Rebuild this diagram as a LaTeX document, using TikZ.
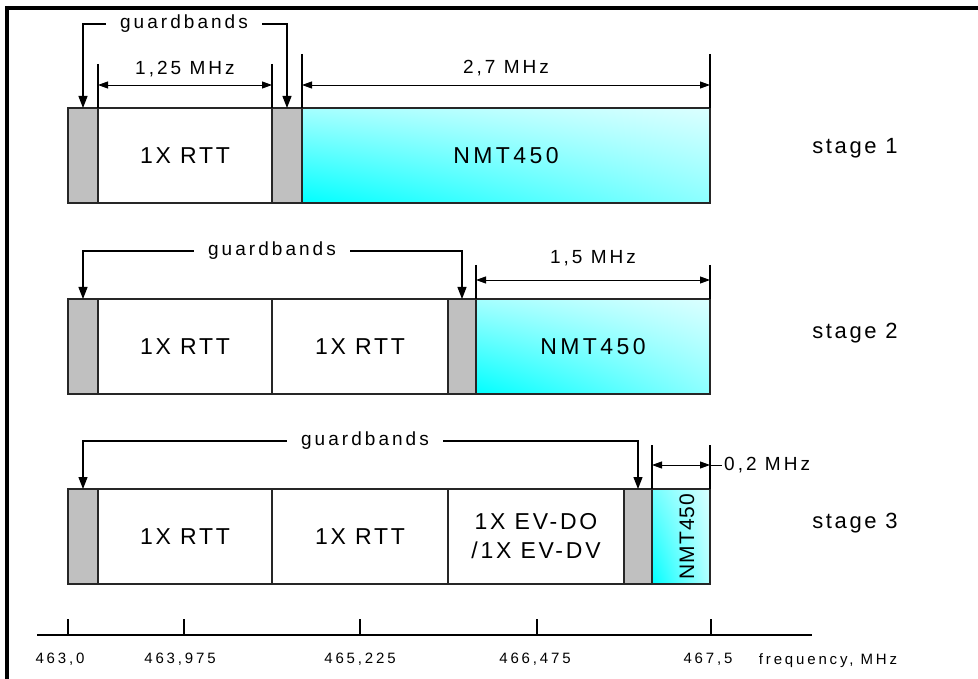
\documentclass[tikz,border=0pt]{standalone}
\usepackage{fontspec}
\setmainfont{Liberation Sans}
\newfontfamily\bigf[LetterSpace=12]{Liberation Sans}
\newfontfamily\nmtf[LetterSpace=15]{Liberation Sans}
\newfontfamily\medf[LetterSpace=16]{Liberation Sans}
\newfontfamily\smlf[LetterSpace=19]{Liberation Sans}
\newfontfamily\vertf[LetterSpace=5]{Liberation Sans}
\usetikzlibrary{arrows.meta,shadings}
\definecolor{guardgray}{HTML}{C0C0C0}
\begin{document}
\begin{tikzpicture}[x=1pt,y=-1pt,
  band/.style={draw=black!85, line width=1.3pt, anchor=north west,
    minimum height=95pt, inner sep=0pt, outer sep=0pt,
    font=\bigf\fontsize{23}{29}\selectfont, align=center},
  guard/.style={band, fill=guardgray},
  nmt/.style={band, font=\nmtf\fontsize{23}{29}\selectfont, shade,
    lower left=cyan, upper left=cyan!35, lower right=cyan!45, upper right=cyan!14},
  nmtthin/.style={band, shade, lower left=cyan, upper left=cyan!55,
    lower right=cyan!30, upper right=cyan!15},
  ext/.style={line width=2pt, black},
  dim/.style={line width=0.9pt, black, {Triangle[length=10pt,width=7pt]}-{Triangle[length=10pt,width=7pt]}},
  gb/.style={line width=1.2pt, black, -{Triangle[length=12pt,width=9pt]}},
  gbtext/.style={font=\medf\fontsize{19}{23}\selectfont, inner xsep=14pt, inner ysep=2pt},
  dimtext/.style={font=\medf\fontsize{19}{23}\selectfont, inner sep=1pt},
  stagetext/.style={font=\bigf\fontsize{22}{26}\selectfont},
  axtext/.style={font=\smlf\fontsize{15}{18}\selectfont},
  frame/.style={line width=4pt, black}
]
\useasboundingbox (0,0) rectangle (978,679);
% frame
\draw[frame] (5,8) -- (978,8);
\draw[frame] (7,6) -- (7,679);

% ---------------- stage 1
\node[guard, minimum width=30pt] (g1a) at (68,108) {};
\node[band, minimum width=174pt] (r1) at (98,108) {1X RTT};
\node[guard, minimum width=30pt] (g1b) at (272,108) {};
\node[nmt, minimum width=408pt] (n1) at (302,108) {NMT450};
\node[stagetext] (s1) at (855,148) {stage 1};

\node[gbtext] (gb1) at (184,24) {guardbands};
\draw[gb] (gb1.west) -| (g1a.north);
\draw[gb] (gb1.east) -| (g1b.north);

\coordinate (e1a) at (98,64);  \coordinate (e1b) at (272,64);
\coordinate (e1c) at (302,54); \coordinate (e1d) at (710,54);
\draw[ext] (e1a) -- (r1.north west);
\draw[ext] (e1b) -- (g1b.north west);
\draw[ext] (e1c) -- (n1.north west);
\draw[ext] (e1d) -- (n1.north east);
\coordinate (a1a) at (98,85);  \coordinate (a1b) at (272,85);
\coordinate (a1c) at (302,85); \coordinate (a1d) at (710,85);
\draw[dim] (a1a) -- (a1b);
\draw[dim] (a1c) -- (a1d);
\node[dimtext] (t1a) at (185,69) {1,25 MHz};
\node[dimtext] (t1b) at (506,68) {2,7 MHz};

% ---------------- stage 2
\node[guard, minimum width=30pt] (g2a) at (68,299) {};
\node[band, minimum width=174pt] (r2a) at (98,299) {1X RTT};
\node[band, minimum width=176pt] (r2b) at (272,299) {1X RTT};
\node[guard, minimum width=28pt] (g2b) at (448,299) {};
\node[nmt, minimum width=234pt] (n2) at (476,299) {NMT450};
\node[stagetext] (s2) at (855,333) {stage 2};

\node[gbtext] (gb2) at (272,251) {guardbands};
\draw[gb] (gb2.west) -| (g2a.north);
\draw[gb] (gb2.east) -| (g2b.north);

\coordinate (e2a) at (476,265); \coordinate (e2b) at (710,265);
\draw[ext] (e2a) -- (n2.north west);
\draw[ext] (e2b) -- (n2.north east);
\coordinate (a2a) at (476,280); \coordinate (a2b) at (710,280);
\draw[dim] (a2a) -- (a2b);
\node[dimtext] (t2) at (593,258) {1,5 MHz};

% ---------------- stage 3
\node[guard, minimum width=30pt] (g3a) at (68,489) {};
\node[band, minimum width=174pt] (r3a) at (98,489) {1X RTT};
\node[band, minimum width=176pt] (r3b) at (272,489) {1X RTT};
\node[band, minimum width=176pt] (e3) at (448,489) {1X EV-DO\\/1X EV-DV};
\node[guard, minimum width=28pt] (g3b) at (624,489) {};
\node[nmtthin, minimum width=58pt] (n3) at (652,489) {};
\node[font=\vertf\fontsize{21}{25}\selectfont, rotate=90, inner sep=0pt] (n3t) at ([xshift=6pt]n3.center) {NMT450};
\node[stagetext] (s3) at (855,523) {stage 3};

\node[gbtext] (gb3) at (365,441) {guardbands};
\draw[gb] (gb3.west) -| (g3a.north);
\draw[gb] (gb3.east) -| (g3b.north);

\coordinate (e3a) at (652,445); \coordinate (e3b) at (710,445);
\draw[ext] (e3a) -- (n3.north west);
\draw[ext] (e3b) -- (n3.north east);
\coordinate (a3a) at (652,465); \coordinate (a3b) at (710,465);
\draw[dim] (a3a) -- (a3b);
\node[dimtext, anchor=west, inner sep=0pt] (t3) at (724,465) {0,2 MHz};
\coordinate (k3) at (722,465);
\draw[line width=0.9pt] (a3b) -- (k3);

% ---------------- frequency axis
\coordinate (ax0) at (37,635); \coordinate (ax1) at (812,635);
\draw[line width=1.3pt] (ax0) -- (ax1);
\foreach \xx/\nm in {68/k0,184/k1,360/k2,537/k3,711/k4}{
  \coordinate (\nm t) at (\xx,619);
  \coordinate (\nm b) at (\xx,635);
  \draw[line width=1.3pt] (\nm t) -- (\nm b);
}
\node[axtext] (f0) at (60,659) {463,0};
\node[axtext] (f1) at (180,659) {463,975};
\node[axtext] (f2) at (360,659) {465,225};
\node[axtext] (f3) at (535,659) {466,475};
\node[axtext] (f4) at (708,659) {467,5};
\node[axtext] (fl) at (828,661) {frequency, MHz};
\end{tikzpicture}
\end{document}
